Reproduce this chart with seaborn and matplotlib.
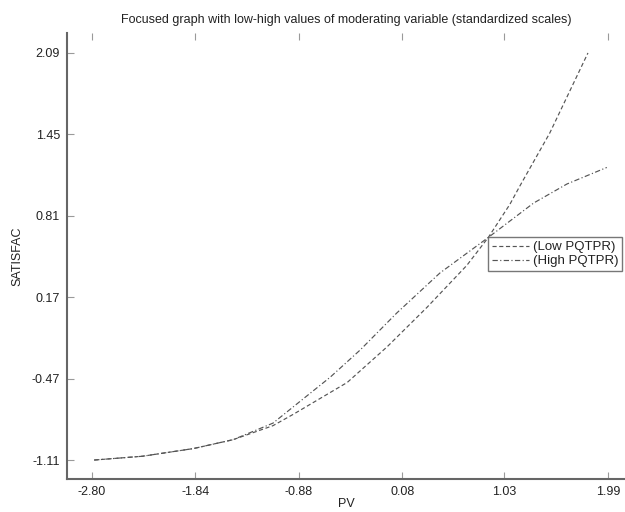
import matplotlib
matplotlib.use("Agg")
import matplotlib.pyplot as plt
import seaborn as sns
import pandas as pd

# values
pv_low = [-2.78, -2.33, -1.86, -1.49, -1.12, -0.93, -0.43, -0.06, 0.31, 0.68, 0.88, 1.08, 1.17, 1.45, 1.805]
sat_low = [-1.11, -1.08, -1.02, -0.95, -0.84, -0.75, -0.50, -0.22, 0.09, 0.42, 0.64, 0.90, 1.04, 1.46, 2.09]

pv_high = [-2.78, -2.33, -1.86, -1.49, -1.12, -0.59, -0.31, 0.03, 0.43, 0.88, 1.30, 1.61, 1.98]
sat_high = [-1.11, -1.08, -1.02, -0.95, -0.82, -0.46, -0.245, 0.046, 0.36, 0.64, 0.91, 1.06, 1.19]

x_ticks = [-2.80, -1.84, -0.88, 0.08, 1.03, 1.99]
y_ticks = [-1.11, -0.47, 0.17, 0.81, 1.45, 2.09]

low_df = pd.DataFrame({"PV": pv_low, "SATISFAC": sat_low})
high_df = pd.DataFrame({"PV": pv_high, "SATISFAC": sat_high})

sns.set_style("white")
plt.rcParams["font.family"] = ["Liberation Sans", "DejaVu Sans"]

fig = plt.figure(figsize=(6.25, 5.12), dpi=100)
ax = fig.add_axes([67 / 625, 1 - 479 / 512, (625 - 67) / 625, (479 - 33) / 512])

line_col = "#555555"
sns.lineplot(data=low_df, x="PV", y="SATISFAC", ax=ax, color=line_col, lw=0.85,
             dashes=False, label="(Low PQTPR)", sort=False)
sns.lineplot(data=high_df, x="PV", y="SATISFAC", ax=ax, color=line_col, lw=0.85,
             dashes=False, label="(High PQTPR)", sort=False)
ax.lines[0].set_dashes([3.5, 2.2])
ax.lines[1].set_dashes([4.5, 2, 1, 2])

ax.set_xlim(-3.032, 2.149)
ax.set_ylim(-1.259, 2.247)
ax.set_xticks(x_ticks)
ax.set_xticklabels([f"{v:.2f}" for v in x_ticks])
ax.set_yticks(y_ticks)
ax.set_yticklabels([f"{v:.2f}" for v in y_ticks])

ax.tick_params(direction="in", length=5, width=0.8, color="#9a9a9a",
               labelsize=9, labelcolor="#222222", top=True, bottom=True, left=True, pad=5)
for side in ["top", "right"]:
    ax.spines[side].set_visible(False)
for side in ["left", "bottom"]:
    ax.spines[side].set_color("#666666")
    ax.spines[side].set_linewidth(1.5)

ax.set_title("Focused graph with low-high values of moderating variable (standardized scales)",
             fontsize=9, color="#222222", pad=7)
ax.set_xlabel("PV", fontsize=9, color="#222222", labelpad=0)
ax.set_ylabel("SATISFAC", fontsize=9, color="#222222", labelpad=6)

leg = ax.legend(loc="upper left", bbox_to_anchor=(488 / 625, 1 - 237 / 512),
                bbox_transform=fig.transFigure, borderaxespad=0, fontsize=9.5,
                handlelength=2.8, handletextpad=0.3, labelspacing=0.15, borderpad=0.3,
                fancybox=False, frameon=True)
leg.get_frame().set_edgecolor("#555555")
leg.get_frame().set_linewidth(1.0)
for t in leg.get_texts():
    t.set_color("#222222")

fig.savefig("out.png", dpi=100)
